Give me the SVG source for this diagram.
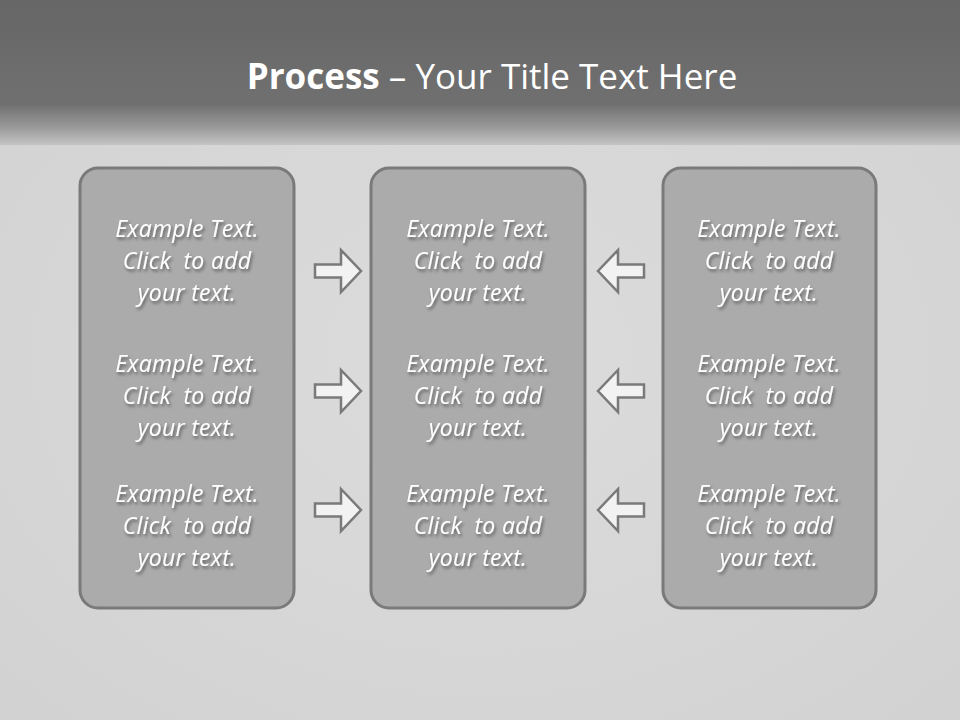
<svg xmlns="http://www.w3.org/2000/svg" width="960" height="720" viewBox="0 0 960 720">
<defs>
<linearGradient id="hdr" x1="0" y1="0" x2="0" y2="1">
<stop offset="0" stop-color="#666666"/>
<stop offset="0.72" stop-color="#707070"/>
<stop offset="0.88" stop-color="#9a9a9a"/>
<stop offset="1" stop-color="#c4c4c4"/>
</linearGradient>
<radialGradient id="bg" cx="0.5" cy="0.5" r="0.7">
<stop offset="0" stop-color="#dcdcdc"/>
<stop offset="1" stop-color="#d2d2d2"/>
</radialGradient>
<filter id="sh" x="-20%" y="-20%" width="140%" height="160%">
<feDropShadow dx="1.5" dy="2.5" stdDeviation="1.5" flood-color="#000" flood-opacity="0.45"/>
</filter>
<style>
.box{fill:#ababab;stroke:#7a7a7a;stroke-width:3}
.t{font-family:"Open Sans","Liberation Sans",sans-serif;font-style:italic;font-size:23px;letter-spacing:0.3px;fill:#ffffff;text-anchor:middle;filter:url(#sh);white-space:pre}
.arr{fill:#f2f2f2;stroke:#7a7a7a;stroke-width:2.5;stroke-linejoin:miter}
.title{font-family:"Open Sans","Liberation Sans",sans-serif;font-size:35px;fill:#ffffff;text-anchor:middle}
</style>
</defs>
<rect x="0" y="0" width="960" height="720" fill="url(#bg)"/>
<rect x="0" y="0" width="960" height="145" fill="url(#hdr)"/>
<text class="title" x="492" y="89"><tspan font-weight="bold">Process</tspan> – Your Title Text Here</text>

<g id="box-left">
<rect class="box" x="80" y="168" width="214" height="440" rx="18"/>
<text class="t" x="187" y="237">Example Text.</text>
<text class="t" x="187" y="269">Click  to add</text>
<text class="t" x="187" y="301">your text.</text>
<text class="t" x="187" y="372">Example Text.</text>
<text class="t" x="187" y="404">Click  to add</text>
<text class="t" x="187" y="436">your text.</text>
<text class="t" x="187" y="502">Example Text.</text>
<text class="t" x="187" y="534">Click  to add</text>
<text class="t" x="187" y="566">your text.</text>
</g>
<g id="box-middle">
<rect class="box" x="371" y="168" width="214" height="440" rx="18"/>
<text class="t" x="478" y="237">Example Text.</text>
<text class="t" x="478" y="269">Click  to add</text>
<text class="t" x="478" y="301">your text.</text>
<text class="t" x="478" y="372">Example Text.</text>
<text class="t" x="478" y="404">Click  to add</text>
<text class="t" x="478" y="436">your text.</text>
<text class="t" x="478" y="502">Example Text.</text>
<text class="t" x="478" y="534">Click  to add</text>
<text class="t" x="478" y="566">your text.</text>
</g>
<g id="box-right">
<rect class="box" x="663" y="168" width="213" height="440" rx="18"/>
<text class="t" x="769" y="237">Example Text.</text>
<text class="t" x="769" y="269">Click  to add</text>
<text class="t" x="769" y="301">your text.</text>
<text class="t" x="769" y="372">Example Text.</text>
<text class="t" x="769" y="404">Click  to add</text>
<text class="t" x="769" y="436">your text.</text>
<text class="t" x="769" y="502">Example Text.</text>
<text class="t" x="769" y="534">Click  to add</text>
<text class="t" x="769" y="566">your text.</text>
</g>
<g id="connectors">
<path class="arr" transform="translate(0,271)" d="M315,-6.5 H341 V-21 L361,0 L341,21 V6.5 H315 Z"/>
<path class="arr" transform="translate(0,391)" d="M315,-6.5 H341 V-21 L361,0 L341,21 V6.5 H315 Z"/>
<path class="arr" transform="translate(0,510)" d="M315,-6.5 H341 V-21 L361,0 L341,21 V6.5 H315 Z"/>
<path class="arr" transform="translate(0,271)" d="M644,-6.5 H618 V-21 L598,0 L618,21 V6.5 H644 Z"/>
<path class="arr" transform="translate(0,391)" d="M644,-6.5 H618 V-21 L598,0 L618,21 V6.5 H644 Z"/>
<path class="arr" transform="translate(0,510)" d="M644,-6.5 H618 V-21 L598,0 L618,21 V6.5 H644 Z"/>
</g>
</svg>
